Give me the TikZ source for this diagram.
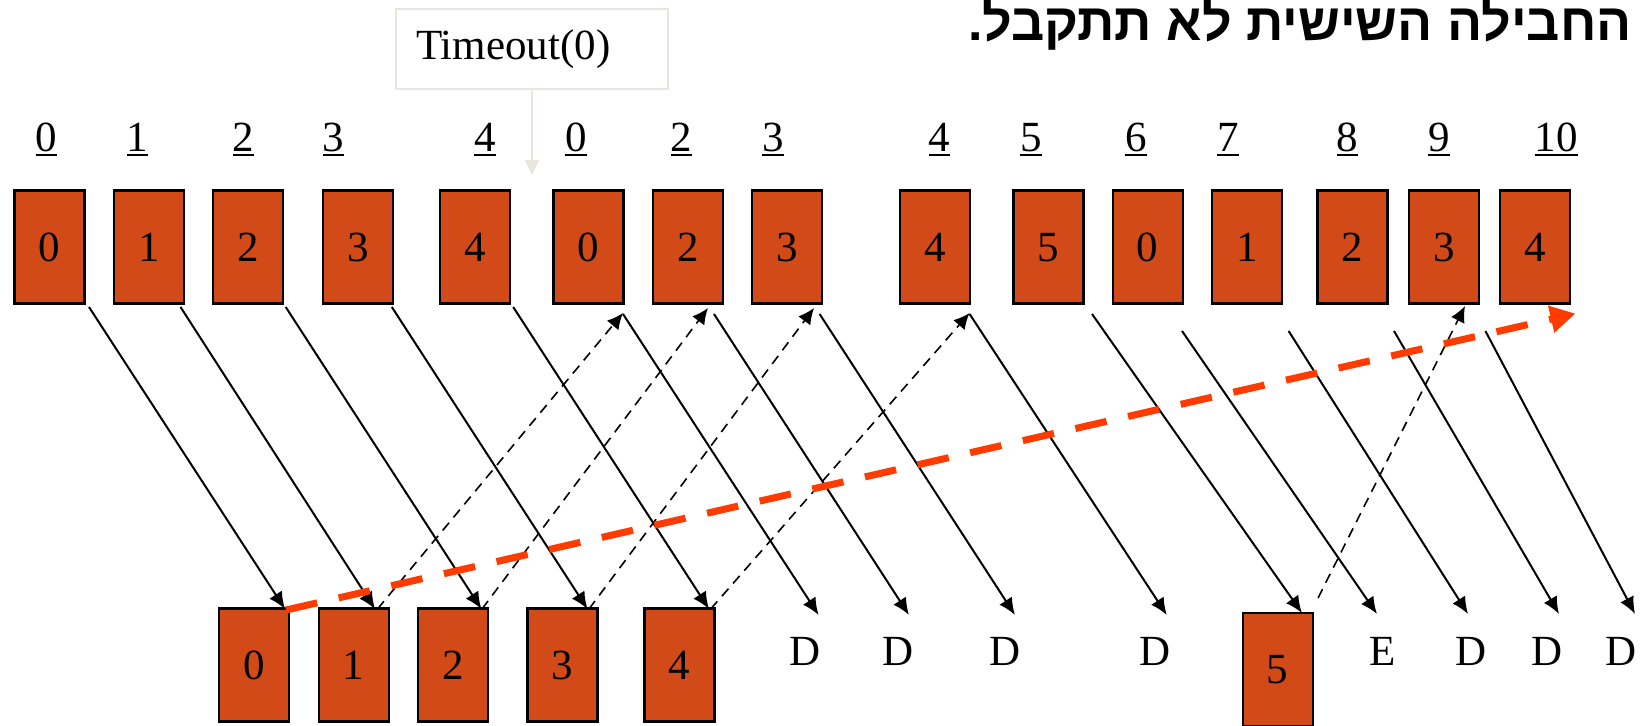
\documentclass[tikz,border=0pt]{standalone}
\usepackage{fontspec}
\setmainfont{Liberation Serif}
\newfontfamily\hebfont[Script=Hebrew]{Liberation Sans}
\TeXXeTstate=1
\usetikzlibrary{arrows.meta}
\definecolor{pktfill}{RGB}{209,74,24}
\definecolor{redarr}{RGB}{255,59,0}
\definecolor{tobox}{RGB}{233,230,222}
\newcommand\ulnum[1]{\setbox0=\hbox{#1}\rlap{\rule[-2.2pt]{\wd0}{1.2pt}}\box0}
\begin{document}
\begin{tikzpicture}[x=0.5pt,y=-0.5pt,
  txt/.style={font=\fontsize{21.5}{26}\selectfont, inner sep=0pt},
  pkt/.style={txt, draw=black, line width=1.2pt, fill=pktfill, minimum width=35pt, minimum height=56.5pt},
  lbl/.style={txt, anchor=base},
  sol/.style={line width=1pt, -{Latex[length=8.5pt,width=7.5pt]}},
  dsh/.style={line width=0.8pt, dash pattern=on 5pt off 3.5pt, -{Latex[length=8pt,width=7.5pt]}},
  redarrow/.style={draw=redarr, line width=3.5pt, dash pattern=on 16pt off 11pt, -{Triangle[length=12.5pt,width=13pt]}}]
\useasboundingbox (0,0) rectangle (1641,726);
% title
\node[anchor=base east, inner sep=0pt, text height=17pt, text depth=5pt, font=\hebfont\bfseries\fontsize{26}{30}\selectfont] (title) at (1632,41) {\beginR החבילה השישית לא תתקבל.\endR};
% timeout box
\node[txt, draw=tobox, line width=1pt, minimum width=136pt, minimum height=40pt, text width=116pt, align=left, inner xsep=10pt, inner ysep=0pt] (to) at (532,49.2) {Timeout(0)};
\coordinate (toTip) at (532,175);
\draw[tobox, line width=1pt, -{Triangle[length=7.5pt,width=7pt]}] (to.south) -- (toTip);
% top labels
\foreach \n/\x/\t in {1/46.5/0, 2/137.5/1, 3/243.7/2, 4/333.7/3, 5/484.8/4, 6/575.8/0, 7/681.5/2, 8/773/3, 9/939.4/4, 10/1031/5, 11/1136/6, 12/1227.8/7, 13/1347.7/8, 14/1438.8/9, 15/1556/10}
  \node[lbl] (l\n) at (\x,151.7) {\ulnum{\t}};
% top packets
\foreach \n/\x/\t in {1/49.5/0, 2/148.8/1, 3/248.2/2, 4/357.8/3, 5/475/4, 6/588.5/0, 7/687.8/2, 8/787/3, 9/935/4, 10/1048.3/5, 11/1147.7/0, 12/1247/1, 13/1352.5/2, 14/1443.8/3, 15/1534.8/4}
  \node[pkt] (t\n) at (\x,247.2) {\t};
% bottom packets
\foreach \n/\x/\t in {1/254.2/0, 2/353.7/1, 3/453/2, 4/562.4/3, 5/679.5/4}
  \node[pkt] (b\n) at (\x,665) {\t};
\node[pkt] (b6) at (1277.7,669.5) {5};
% bottom labels
\foreach \n/\x/\t in {1/805.4/D, 2/898.5/D, 3/1004.8/D, 4/1155/D, 5/1382.8/E, 6/1470.8/D, 7/1546.7/D, 8/1621/D}
  \node[lbl] (r\n) at (\x,665) {\t};
% solid arrows
\foreach \i/\a/\b/\c/\d in {1/89/307/285/609, 2/180.5/307/375/609, 3/285.7/307/481.4/609, 4/391.8/307/587.5/609, 5/513.2/307/709/609, 6/623/314/818.6/615, 7/714/314/909/615, 8/819.6/314/1015/615, 9/969.6/314/1166.8/615, 10/1092/314/1302/613, 11/1182/331/1377/614, 12/1288.6/331/1468/614, 13/1394/331/1559/614, 14/1485.4/331/1635/614}
{
  \coordinate (ss\i) at (\a,\b);
  \coordinate (se\i) at (\c,\d);
  \draw[sol] (ss\i) -- (se\i);
}
% dashed acks
\foreach \i/\a/\b/\c/\d in {1/377.5/609/623/313, 2/482/609/708/308, 3/589/609/814/308, 4/710.7/609/969.6/313, 5/1318/598/1465/306}
{
  \coordinate (ds\i) at (\a,\b);
  \coordinate (de\i) at (\c,\d);
  \draw[dsh] (ds\i) -- (de\i);
}
% red window arrow
\coordinate (rs) at (286,610);
\coordinate (re) at (1575.5,313.6);
\draw[redarrow] (rs) -- (re);
\end{tikzpicture}
\end{document}
